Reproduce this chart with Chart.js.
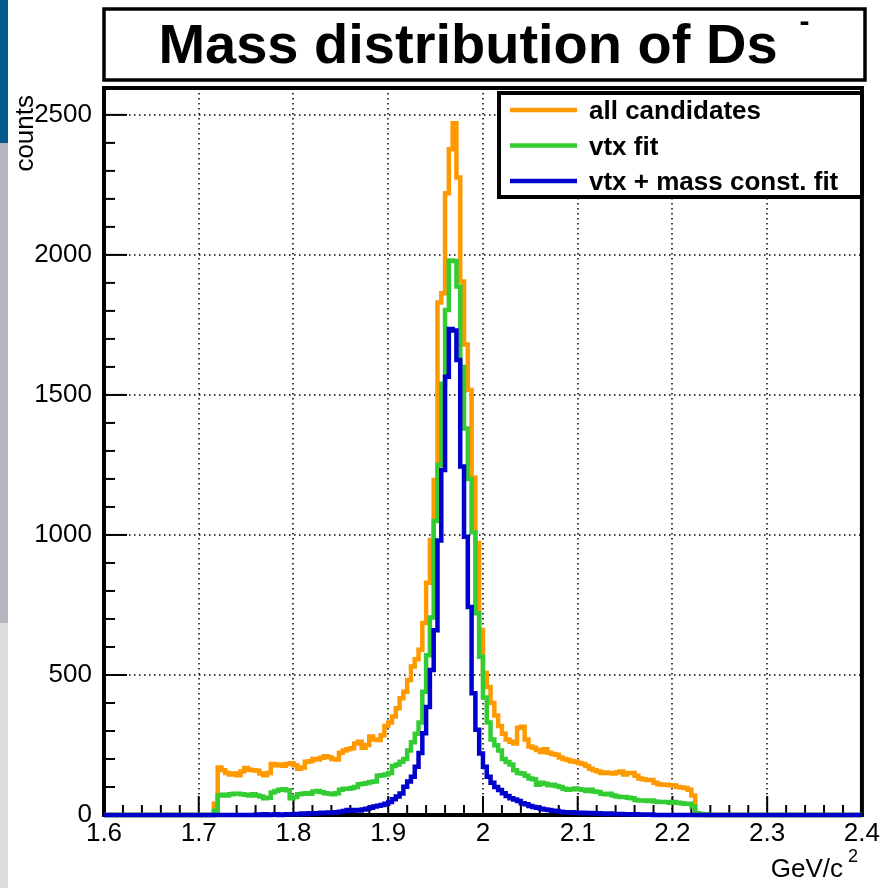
<!DOCTYPE html>
<html>
<head>
<meta charset="utf-8">
<title>Mass distribution of Ds</title>
<script src="https://cdn.jsdelivr.net/npm/chart.js@4.4.0/dist/chart.umd.min.js"></script>
<style>
  html, body { margin: 0; padding: 0; background: #fff; }
  canvas { display: block; }
</style>
</head>
<body>
<canvas id="massChart" width="883" height="888"></canvas>
<script>
// histogram binning (axis definition)
const histMin = 1.6;
const histMax = 2.4;
const binWidth = 0.004;
const firstBin = 28; // first stored bin starts at 1.712

const seriesLabels = ['all candidates', 'vtx fit', 'vtx + mass const. fit'];
const seriesColors = ['#ff9900', '#33cc33', '#0000cc'];

// counts per bin, bins 28..159 (1.712 .. 2.240)
const allCandidates = [
  0, 40, 170, 160, 150, 145, 148, 142, 155, 168,
  162, 160, 158, 148, 142, 150, 182, 178, 180, 176,
  182, 185, 178, 165, 170, 190, 192, 200, 198, 204,
  210, 206, 200, 198, 222, 230, 235, 238, 255, 262,
  240, 250, 280, 270, 268, 285, 318, 330, 352, 381,
  417, 440, 482, 530, 556, 590, 686, 829, 982, 1196,
  1830, 1863, 2220, 2377, 2470, 2276, 1905, 1680, 1518, 1204,
  971, 661, 507, 457, 400, 355, 318, 290, 270, 262,
  255, 312, 315, 270, 245, 240, 232, 225, 235, 222,
  218, 215, 205, 200, 196, 192, 190, 186, 182, 175,
  165, 160, 155, 150, 152, 150, 148, 152, 155, 145,
  150, 150, 140, 130, 128, 125, 125, 115, 110, 108,
  108, 106, 105, 100, 98, 96, 90, 70, 0, 0,
  0, 0
];
const vtxFit = [
  0, 15, 70, 72, 70, 74, 76, 76, 74, 72,
  70, 74, 70, 66, 60, 62, 80, 86, 90, 92,
  88, 60, 64, 74, 76, 78, 76, 84, 86, 82,
  78, 76, 74, 78, 90, 94, 94, 96, 100, 110,
  112, 114, 118, 120, 140, 142, 145, 150, 175, 180,
  190, 200, 230, 260, 290, 330, 440, 570, 705, 1050,
  1250, 1540, 1803, 1980, 1978, 1887, 1600, 1380, 1200, 1010,
  720, 565, 420, 330, 270, 249, 230, 200, 189, 180,
  160, 150, 148, 140, 130, 128, 108, 115, 112, 106,
  108, 104, 100, 94, 90, 92, 95, 92, 90, 86,
  90, 84, 82, 76, 74, 76, 70, 66, 64, 64,
  62, 60, 54, 52, 52, 50, 52, 48, 46, 46,
  46, 44, 46, 44, 42, 40, 40, 30, 6, 4,
  3, 0
];
const vtxMassFit = [
  0, 0, 0, 0, 0, 0, 0, 0, 0, 0,
  0, 0, 2, 0, 3, 0, 2, 3, 0, 2,
  3, 2, 4, 3, 5, 4, 6, 5, 6, 8,
  7, 9, 8, 10, 12, 14, 18, 15, 18, 16,
  20, 22, 26, 30, 33, 36, 40, 46, 56, 66,
  77, 101, 120, 137, 172, 221, 292, 386, 518, 660,
  980, 1232, 1565, 1735, 1730, 1625, 1244, 994, 743, 435,
  304, 220, 172, 137, 115, 100, 89, 78, 68, 60,
  55, 50, 42, 38, 32, 29, 26, 22, 20, 18,
  15, 14, 12, 10, 9, 10, 8, 7, 8, 6,
  7, 5, 6, 5, 4, 5, 4, 3, 4, 3,
  3, 2, 3, 2, 2, 1, 2, 0, 0, 0,
  0, 0, 0, 0, 0, 0, 0, 0, 0, 0,
  0, 0
];

const xTickValues = [1.6, 1.7, 1.8, 1.9, 2.0, 2.1, 2.2, 2.3, 2.4];
const xTickLabels = ['1.6', '1.7', '1.8', '1.9', '2', '2.1', '2.2', '2.3', '2.4'];
const yTickValues = [0, 500, 1000, 1500, 2000, 2500];
const yTickLabels = ['0', '500', '1000', '1500', '2000', '2500'];
const yMax = 2596;
const xMinorStep = 0.02;
const yMinorStep = 100;

const FONT = "'Liberation Sans', Arial, Helvetica, sans-serif";

// turn bin counts into step points (left edge of each bin)
function toPoints(counts) {
    const pts = [{ x: histMin, y: 0 }];
    counts.forEach((c, i) => pts.push({ x: histMin + (firstBin + i) * binWidth, y: c }));
    pts.push({ x: histMin + (firstBin + counts.length) * binWidth, y: 0 });
    pts.push({ x: histMax, y: 0 });
    return pts;
}

const rootStyle = {
    id: 'rootStyle',
    beforeDraw(chart) {
        const ctx = chart.ctx;
        ctx.save();
        ctx.fillStyle = '#ffffff';
        ctx.fillRect(0, 0, chart.width, chart.height);
        // side strip of the page
        ctx.fillStyle = '#00598a';
        ctx.fillRect(0, 0, 8, 143);
        ctx.fillStyle = '#b5b7bd';
        ctx.fillRect(0, 143, 8, 480);
        ctx.fillStyle = '#dcdcdc';
        ctx.fillRect(0, 623, 8, 265);
        ctx.restore();
    },
    beforeDatasetsDraw(chart) {
        const { ctx, chartArea: a, scales: { x, y } } = chart;
        ctx.save();
        // dotted grid
        ctx.strokeStyle = '#000';
        ctx.lineWidth = 1.5;
        ctx.setLineDash([1.5, 3.5]);
        xTickValues.slice(1, -1).forEach(v => {
            const px = Math.round(x.getPixelForValue(v));
            ctx.beginPath();
            ctx.moveTo(px, a.top);
            ctx.lineTo(px, a.bottom);
            ctx.stroke();
        });
        yTickValues.slice(1).forEach(v => {
            const py = Math.round(y.getPixelForValue(v));
            ctx.beginPath();
            ctx.moveTo(a.left, py);
            ctx.lineTo(a.right, py);
            ctx.stroke();
        });
        ctx.setLineDash([]);

        // ticks (inside the frame)
        ctx.lineWidth = 2;
        const nx = Math.round((histMax - histMin) / xMinorStep);
        for (let i = 0; i <= nx; i++) {
            const px = x.getPixelForValue(histMin + i * xMinorStep);
            const len = i % 5 === 0 ? 19 : 10;
            ctx.beginPath();
            ctx.moveTo(px, a.bottom);
            ctx.lineTo(px, a.bottom - len);
            ctx.stroke();
        }
        const ny = Math.floor(yMax / yMinorStep);
        for (let i = 0; i <= ny; i++) {
            const py = y.getPixelForValue(i * yMinorStep);
            const len = i % 5 === 0 ? 23 : 11;
            ctx.beginPath();
            ctx.moveTo(a.left, py);
            ctx.lineTo(a.left + len, py);
            ctx.stroke();
        }

        // frame
        ctx.lineWidth = 4;
        ctx.strokeRect(a.left, a.top, a.right - a.left, a.bottom - a.top);
        ctx.restore();
    },
    afterDraw(chart) {
        const ctx = chart.ctx;
        ctx.save();

        // title box
        ctx.strokeStyle = '#000';
        ctx.lineWidth = 3.5;
        ctx.strokeRect(104, 9, 761, 71);
        ctx.fillStyle = '#000';
        ctx.font = 'bold 56px ' + FONT;
        ctx.textBaseline = 'alphabetic';
        ctx.textAlign = 'left';
        const mainTitle = 'Mass distribution of Ds';
        const mainW = ctx.measureText(mainTitle).width;
        const x0 = 484 - (mainW + 32) / 2;
        ctx.fillText(mainTitle, x0, 63);
        ctx.font = 'bold 30px ' + FONT;
        ctx.fillText('-', x0 + mainW + 22, 31);

        // legend
        ctx.fillStyle = '#fff';
        ctx.fillRect(499, 93, 363, 104);
        ctx.lineWidth = 4;
        ctx.strokeRect(499, 93, 363, 104);
        const rowY = [110, 145.5, 181];
        chart.data.datasets.forEach((ds, i) => {
            ctx.strokeStyle = ds.borderColor;
            ctx.lineWidth = 4.5;
            ctx.beginPath();
            ctx.moveTo(510, rowY[i]);
            ctx.lineTo(577, rowY[i]);
            ctx.stroke();
            ctx.fillStyle = '#000';
            ctx.font = 'bold 26px ' + FONT;
            ctx.fillText(ds.label, 589, rowY[i] + 9);
        });

        // axis titles
        ctx.fillStyle = '#000';
        ctx.font = '26px ' + FONT;
        ctx.textAlign = 'right';
        ctx.fillText('GeV/c', 843, 877);
        ctx.font = '18px ' + FONT;
        ctx.textAlign = 'left';
        ctx.fillText('2', 848, 862);

        ctx.font = '26px ' + FONT;
        ctx.translate(33, 95);
        ctx.rotate(-Math.PI / 2);
        ctx.textAlign = 'right';
        ctx.fillText('counts', 0, 0);
        ctx.restore();
    }
};

const tickFont = { family: FONT, size: 26 };

new Chart(document.getElementById('massChart'), {
    type: 'line',
    data: {
        datasets: [
            { label: seriesLabels[0], data: toPoints(allCandidates), borderColor: seriesColors[0], order: 3 },
            { label: seriesLabels[1], data: toPoints(vtxFit), borderColor: seriesColors[1], order: 2 },
            { label: seriesLabels[2], data: toPoints(vtxMassFit), borderColor: seriesColors[2], order: 1 }
        ]
    },
    options: {
        responsive: false,
        animation: false,
        devicePixelRatio: 1,
        datasets: {
            line: {
                stepped: 'before',
                borderWidth: 4.5,
                pointRadius: 0,
                fill: false,
                clip: false,
                borderJoinStyle: 'miter',
                borderCapStyle: 'butt'
            }
        },
        layout: { padding: { top: 88, right: 21, left: 0, bottom: 0 } },
        plugins: {
            legend: { display: false },
            title: { display: false },
            tooltip: { enabled: false }
        },
        scales: {
            x: {
                type: 'linear',
                min: histMin,
                max: histMax,
                grid: { display: false, drawTicks: false },
                border: { display: false },
                afterFit(scale) { scale.height = 73; },
                afterBuildTicks(scale) { scale.ticks = xTickValues.map(v => ({ value: v })); },
                ticks: {
                    callback: (v, i) => xTickLabels[i],
                    font: tickFont,
                    color: '#000',
                    padding: 3,
                    maxRotation: 0,
                    autoSkip: false
                }
            },
            y: {
                min: 0,
                max: yMax,
                grid: { display: false, drawTicks: false },
                border: { display: false },
                afterFit(scale) { scale.width = 104; },
                afterBuildTicks(scale) { scale.ticks = yTickValues.map(v => ({ value: v })); },
                ticks: {
                    callback: (v, i) => yTickLabels[i],
                    font: tickFont,
                    color: '#000',
                    padding: 12,
                    autoSkip: false
                }
            }
        }
    },
    plugins: [rootStyle]
});
</script>
</body>
</html>
